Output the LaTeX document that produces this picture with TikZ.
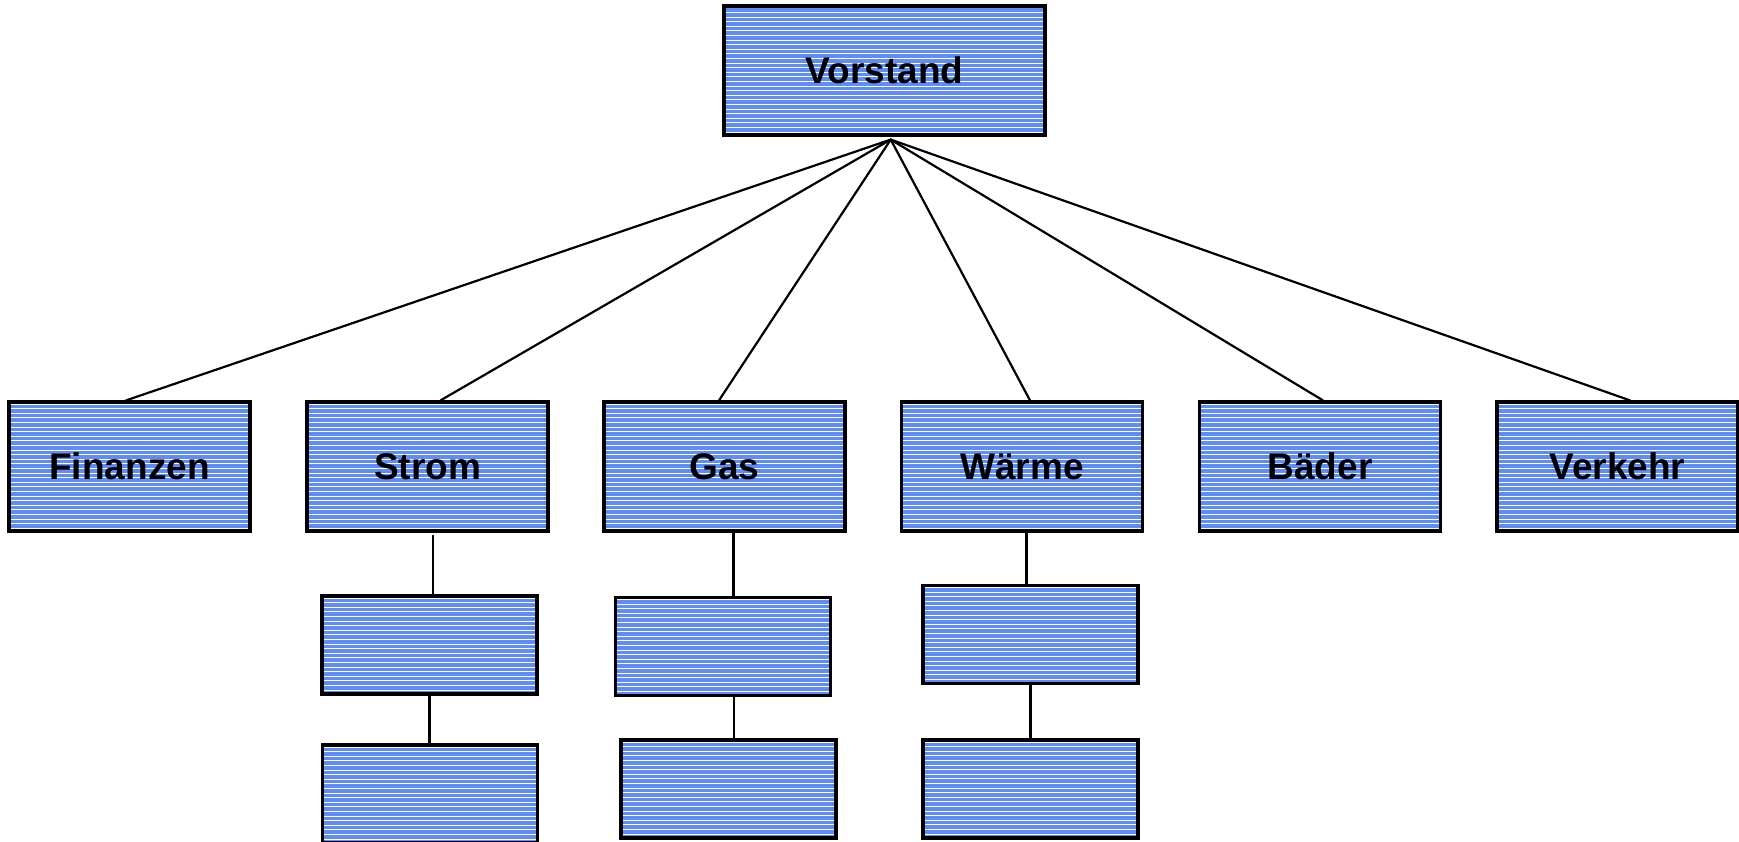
\documentclass[tikz,border=0pt]{standalone}
\usepackage{fontspec}
\setmainfont{Liberation Sans}
\definecolor{boxblue}{RGB}{96,140,248}
\tikzset{
  box/.style={draw=black, line width=3.2pt, fill=boxblue, inner sep=0pt,
    font=\fontsize{37}{40}\selectfont\bfseries,
    path picture={\foreach \k in {0,...,32}{\draw[white, line width=1pt]
      ([yshift=-2pt-\k*4.6pt]path picture bounding box.north west) --
      ([yshift=-2pt-\k*4.6pt]path picture bounding box.north east);}},
    postaction={draw=black, line width=3.2pt}},
  topbox/.style={box, minimum width=241pt, minimum height=129pt},
  subbox/.style={box, minimum width=215pt, minimum height=98pt},
  conn/.style={line width=2.2pt, line cap=round}
}
\begin{document}
\begin{tikzpicture}[x=1pt, y=-1pt]
\useasboundingbox (0,0) rectangle (1739,842);
\node[box, minimum width=321pt, minimum height=129pt] (vorstand) at (884.5,70.5) {Vorstand};
\node[topbox] (fin)   at (129.5,466.5)  {Finanzen};
\node[topbox] (strom) at (427.5,466.5)  {Strom};
\node[topbox] (gas)   at (724.5,466.5)  {Gas};
\node[topbox] (waerme) at (1022,466.5) {Wärme};
\node[topbox] (baeder) at (1320,466.5) {Bäder};
\node[topbox] (verkehr) at (1617.5,466.5) {Verkehr};
\node[subbox] (strom1) at (429.5,645) {};
\node[subbox] (strom2) at (430,794) {};
\node[subbox] (gas1) at (723,646.5) {};
\node[subbox] (gas2) at (728.5,789) {};
\node[subbox] (waerme1) at (1030.5,634.5) {};
\node[subbox] (waerme2) at (1030.5,789) {};
\coordinate (apex) at ([xshift=6.2pt, yshift=-3pt]vorstand.south);
\draw[conn] (apex) -- ([xshift=-3.5pt]fin.north);
\draw[conn] (apex) -- ([xshift=13pt]strom.north);
\draw[conn] (apex) -- ([xshift=-5.5pt]gas.north);
\draw[conn] (apex) -- ([xshift=8pt]waerme.north);
\draw[conn] (apex) -- ([xshift=3pt]baeder.north);
\draw[conn] (apex) -- ([xshift=12.5pt]verkehr.north);
\draw[conn] ([xshift=5.5pt, yshift=-3pt]strom.south) -- ([xshift=5.5pt]strom.south |- strom1.north);
\draw[conn] (strom1.south) -- (strom1.south |- strom2.north);
\draw[conn] ([xshift=9pt]gas.south) -- ([xshift=9pt]gas.south |- gas1.north);
\draw[conn] ([xshift=10.7pt]gas1.south) -- ([xshift=10.7pt]gas1.south |- gas2.north);
\draw[conn] ([xshift=4.5pt]waerme.south) -- ([xshift=4.5pt]waerme.south |- waerme1.north);
\draw[conn] (waerme1.south) -- (waerme1.south |- waerme2.north);
\end{tikzpicture}
\end{document}
